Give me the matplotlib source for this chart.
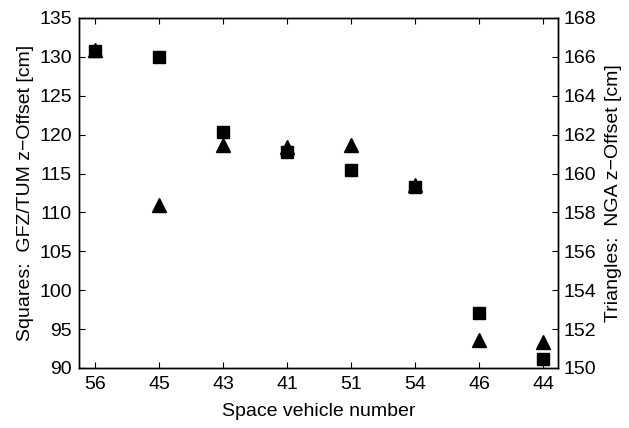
import matplotlib
matplotlib.use("Agg")
import matplotlib.pyplot as plt
import numpy as np

plt.rcParams['font.family'] = ['Liberation Sans', 'DejaVu Sans']

svn = ['56', '45', '43', '41', '51', '54', '46', '44']
gfz_tum = [130.7, 130.0, 120.3, 117.8, 115.4, 113.3, 97.1, 91.1]
nga = [166.35, 158.4, 161.45, 161.35, 161.45, 159.4, 151.45, 151.35]

x = np.arange(len(svn))

fig = plt.figure(figsize=(6.29, 4.28), dpi=100)
ax = fig.add_axes([79/629, 1-368/428, (558-79)/629, 350/428])
ax2 = ax.twinx()
ax.set_zorder(ax2.get_zorder() + 1)
ax.patch.set_visible(False)

ax2.plot(x, nga, linestyle='none', marker='^', ms=10.5, color='black')
ax.plot(x, gfz_tum, linestyle='none', marker='s', ms=8.5, color='black')

ax.set_xlim(-0.25, 7.23)
ax.set_ylim(90, 135)
ax.set_yticks(np.arange(90, 136, 5))
ax2.set_ylim(150, 168)
ax2.set_yticks(np.arange(150, 169, 2))
ax.set_xticks(x)
ax.set_xticklabels(svn)

ax.tick_params(direction='in', top=True, labelsize=14, length=4, width=0.8, pad=6)
ax.tick_params(axis='y', right=False, pad=5)
ax2.tick_params(direction='in', labelsize=14, length=4, width=0.8, pad=4)
for a in (ax, ax2):
    for s in a.spines.values():
        s.set_linewidth(1.0)

ax.set_xlabel('Space vehicle number', fontsize=14, labelpad=7)
ax.set_ylabel('Squares:  GFZ/TUM z\u2212Offset [cm]', fontsize=14, labelpad=4)
ax2.set_ylabel('Triangles:  NGA z\u2212Offset [cm]', fontsize=14, labelpad=6)

fig.savefig('out.png', dpi=100)
